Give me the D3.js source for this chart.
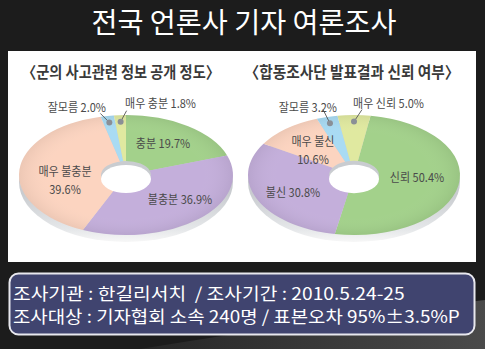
<!DOCTYPE html>
<html><head><meta charset="utf-8">
<script src="https://cdn.jsdelivr.net/npm/d3@7"></script>
<style>
html,body{margin:0;padding:0;background:#1c1c1c;overflow:hidden;}
svg{display:block;}
text{font-family:"Noto Sans CJK KR","Noto Sans",sans-serif;}
</style></head><body>
<script>
// ---- data ----
const titleText = "전국 언론사 기자 여론조사";
const leftTitle = "〈군의 사고관련 정보 공개 정도〉";
const leftCategories = ["충분", "불충분", "매우 불충분", "잘모름", "매우 충분"];
const leftValues = [19.7, 36.9, 39.6, 2.0, 1.8];
const rightTitle = "〈합동조사단 발표결과 신뢰 여부〉";
const rightCategories = ["신뢰", "불신", "매우 불신", "잘모름", "매우 신뢰"];
const rightValues = [50.4, 30.8, 10.6, 3.2, 5.0];
const infoLines = ["조사기관 : 한길리서치  / 조사기간 : 2010.5.24-25",
                   "조사대상 : 기자협회 소속 240명 / 표본오차 95%±3.5%P"];

const sliceColors = ["#a3d18b", "#c4afdb", "#fcd4c0", "#a9dbf3", "#e0e9a0"];

const W = 485, H = 349;
const svg = d3.select("body").append("svg").attr("width", W).attr("height", H);
const defs = svg.append("defs");

// background
const bg = defs.append("linearGradient").attr("id","bgSw").attr("x1","0").attr("y1","0").attr("x2","1").attr("y2","0");
bg.append("stop").attr("offset","0").attr("stop-color","#262626");
bg.append("stop").attr("offset","1").attr("stop-color","#4a4a4a");
svg.append("rect").attr("width",W).attr("height",H).attr("fill","#1c1c1c");
svg.append("path").attr("d","M140,349 Q330,318 485,300 L485,349 Z").attr("fill","url(#bgSw)");

function fitText(sel, width) {
  return width / sel.node().getComputedTextLength();
}

// title
const t = svg.append("text").attr("text-anchor","middle").attr("font-size",28)
  .attr("fill","#ffffff").text(titleText);
t.attr("transform", `translate(244,33) scale(${fitText(t, 305)},1)`);

// white panel
svg.append("rect").attr("x",8).attr("y",51).attr("width",468).attr("height",211).attr("fill","#ffffff");

// side gradient
const sg = defs.append("linearGradient").attr("id","side").attr("x1","0").attr("y1","0").attr("x2","0").attr("y2","1");
sg.append("stop").attr("offset","0.6").attr("stop-color","#c9ccd0");
sg.append("stop").attr("offset","0.9").attr("stop-color","#e6e8ea");
sg.append("stop").attr("offset","1").attr("stop-color","#f7f7f7");

const shade = defs.append("radialGradient").attr("id","shade").attr("cx","0.5").attr("cy","0.5").attr("r","0.5");
shade.append("stop").attr("offset","0.7").attr("stop-color","#ffffff").attr("stop-opacity",0);
shade.append("stop").attr("offset","1").attr("stop-color","#000000").attr("stop-opacity",0.06);

function drawPie(cfg) {
  const { cx, cy, rx, ry, inner, start, cats, vals, title, titleX, titleW, labels, small } = cfg;
  const g = svg.append("g");
  const st = g.append("text").attr("text-anchor","middle").attr("font-size",16)
    .attr("font-weight",700).attr("fill","#3a3a3a").text(title);
  st.attr("transform", `translate(${titleX},78) scale(${fitText(st, titleW)},1)`);

  // 3D side
  g.append("ellipse").attr("cx",cx).attr("cy",cy+7).attr("rx",rx).attr("ry",ry)
    .attr("fill","url(#side)");

  const k = ry / rx;
  const pie = d3.pie().sort(null).value(d => d)
    .startAngle(start * Math.PI/180).endAngle(start * Math.PI/180 + 2*Math.PI);
  const arcs = pie(vals);
  const arc = d3.arc().innerRadius(inner).outerRadius(rx);
  const pg = g.append("g").attr("transform", `translate(${cx},${cy}) scale(1,${k})`);
  pg.selectAll("path").data(arcs).join("path")
    .attr("d", arc).attr("fill", (d,i) => sliceColors[i]);
  pg.append("circle").attr("r", rx).attr("fill","url(#shade)");
  // hole shows the white panel
  pg.append("circle").attr("r", inner).attr("cy", 4/k).attr("fill","#ffffff");

  // labels
  labels.forEach(L => {
    const lines = L.two ? [cats[L.i], vals[L.i].toFixed(1) + "%"] : [cats[L.i] + " " + vals[L.i].toFixed(1) + "%"];
    lines.forEach((txt, j) => {
      g.append("text").attr("text-anchor","middle")
        .attr("font-size", 12).attr("fill", "#4a4a4a")
        .attr("transform", `translate(${L.x},${L.y + (L.two ? (j ? 9 : -9) : 0)}) scale(0.92,1)`)
        .text(txt);
    });
  });
  // small slices: leader dots
  small.forEach(S => {
    const d = arcs[S.i];
    const a = (d.startAngle + d.endAngle) / 2;
    const r = rx * 0.89;
    const px = cx + Math.sin(a) * r, py = cy - Math.cos(a) * r * k;
    g.append("line").attr("x1",px).attr("y1",py).attr("x2",px + S.dx).attr("y2",py + S.dy)
      .attr("stroke","#555").attr("stroke-width",0.9);
    g.append("circle").attr("cx",px).attr("cy",py).attr("r",3).attr("fill","#8a8f96");
    const tx = g.append("text").attr("text-anchor", S.anchor).attr("font-size",12)
      .attr("fill","#4a4a4a").text(cats[S.i] + " " + vals[S.i].toFixed(1) + "%");
    tx.attr("transform", `translate(${S.lx},${S.ly}) scale(0.92,1)`);
  });
}

drawPie({
  cx:126, cy:175, rx:107, ry:60, inner:25, start:0,
  cats:leftCategories, vals:leftValues, title:leftTitle, titleX:121, titleW:198,
  labels:[
    {i:0, x:163, y:148},
    {i:1, x:180, y:204},
    {i:2, x:65, y:185, two:true}
  ],
  small:[
    {i:3, dx:-9, dy:-9, anchor:"end", lx:106, ly:112},
    {i:4, dx:6, dy:-11, anchor:"start", lx:125, ly:108}
  ]
});

drawPie({
  cx:354, cy:175, rx:106, ry:60, inner:25, start:9,
  cats:rightCategories, vals:rightValues, title:rightTitle, titleX:352, titleW:215,
  labels:[
    {i:0, x:417, y:182},
    {i:1, x:293, y:197},
    {i:2, x:313, y:155, two:true}
  ],
  small:[
    {i:3, dx:-7, dy:-14, anchor:"end", lx:337, ly:112},
    {i:4, dx:8, dy:-12, anchor:"start", lx:353, ly:108}
  ]
});

// info box
svg.append("rect").attr("x",9.5).attr("y",273.5).attr("width",465).attr("height",61).attr("rx",9)
  .attr("fill","#40446f").attr("stroke","#e8e8ee").attr("stroke-width",2);
const lineW = [392, 447];
infoLines.forEach((txt, j) => {
  const tx = svg.append("text").attr("font-size",17).attr("fill","#ffffff")
    .attr("xml:space","preserve").style("white-space","pre").text(txt);
  tx.attr("transform", `translate(13,${300 + j*23}) scale(${fitText(tx, lineW[j])},1)`);
});
</script>
</body></html>
